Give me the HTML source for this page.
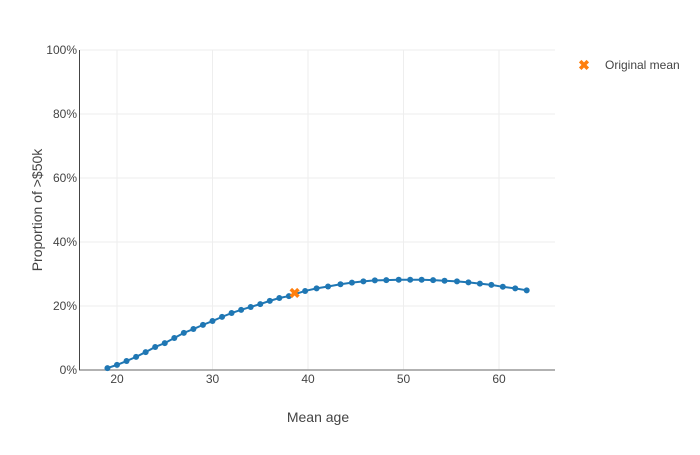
<!DOCTYPE html>
<html><head><meta charset="utf-8"><style>
body{margin:0;background:#fff;font-family:"Liberation Sans",sans-serif}
svg text{font-family:"Liberation Sans",sans-serif}
</style></head><body>
<svg id="chart" width="700" height="450">
<g id="grid"></g>
<g id="axes"></g>
<g id="series"></g>
<text x="318" y="422" text-anchor="middle" font-size="14" fill="#444">Mean age</text>
<text transform="translate(42,210) rotate(-90)" text-anchor="middle" font-size="14" fill="#444">Proportion of &gt;$50k</text>
<g>
<text x="584" y="70" text-anchor="middle" font-size="14" font-weight="bold" fill="#ff7f0e">✖</text>
<text x="605" y="69" font-size="12" fill="#444">Original mean</text>
</g>
</svg>
<script>
const ages=[19,20,21,22,23,24,25,26,27,28,29,30,31,32,33,34,35,36,37,38,39.7,40.9,42.1,43.4,44.6,45.8,47.0,48.2,49.5,50.7,51.9,53.1,54.3,55.6,56.8,58.0,59.2,60.4,61.7,62.9];
const props=[0.6,1.6,2.8,4.1,5.6,7.2,8.4,10,11.6,12.8,14.1,15.3,16.6,17.8,18.8,19.7,20.6,21.6,22.5,23.1,24.7,25.5,26.1,26.8,27.3,27.7,28.0,28.1,28.2,28.2,28.2,28.1,27.9,27.7,27.4,27.0,26.6,26.0,25.5,24.9];
const meanAge=[38.6];
const meanProp=[24.1];
const xTicks=[20,30,40,50,60];
const yTicks=[0,20,40,60,80,100];
const NS="http://www.w3.org/2000/svg";
const X=a=>117+(a-20)*9.55, Y=p=>370-p*3.2;
function mk(t,at,parent){const e=document.createElementNS(NS,t);for(const k in at)e.setAttribute(k,at[k]);parent.appendChild(e);return e;}
const grid=document.getElementById('grid'),axes=document.getElementById('axes'),ser=document.getElementById('series');
xTicks.forEach(t=>{const l=mk('line',{x1:X(t),x2:X(t),y1:50,y2:370,stroke:'#eee'},grid);


const tx=mk('text',{x:X(t),y:383,'text-anchor':'middle','font-size':12,fill:'#444'},axes);tx.textContent=t;

});
yTicks.forEach(t=>{const l=mk('line',{x1:80,x2:555,y1:Y(t),y2:Y(t),stroke:'#eee'},grid);


const tx=mk('text',{x:77,y:Y(t)+4,'text-anchor':'end','font-size':12,fill:'#444'},axes);tx.textContent=t+'%';

});
const xa=mk('line',{x1:79,x2:555,y1:370,y2:370,stroke:'#999','stroke-width':1.5},axes);


const ya=mk('line',{x1:79.5,x2:79.5,y1:50,y2:370,stroke:'#444'},axes);


const pl=mk('polyline',{points:ages.map((a,i)=>X(a)+','+Y(props[i])).join(' '),fill:'none',stroke:'#1f77b4','stroke-width':2},ser);


ages.forEach((a,i)=>{const c=mk('circle',{cx:X(a),cy:Y(props[i]),r:3,fill:'#1f77b4'},ser);

});
meanAge.forEach((a,i)=>{const t=mk('text',{x:X(a),y:Y(meanProp[i])+5,'text-anchor':'middle','font-size':14,'font-weight':'bold',fill:'#ff7f0e'},ser);t.textContent='✖';

});
</script>
</body></html>
